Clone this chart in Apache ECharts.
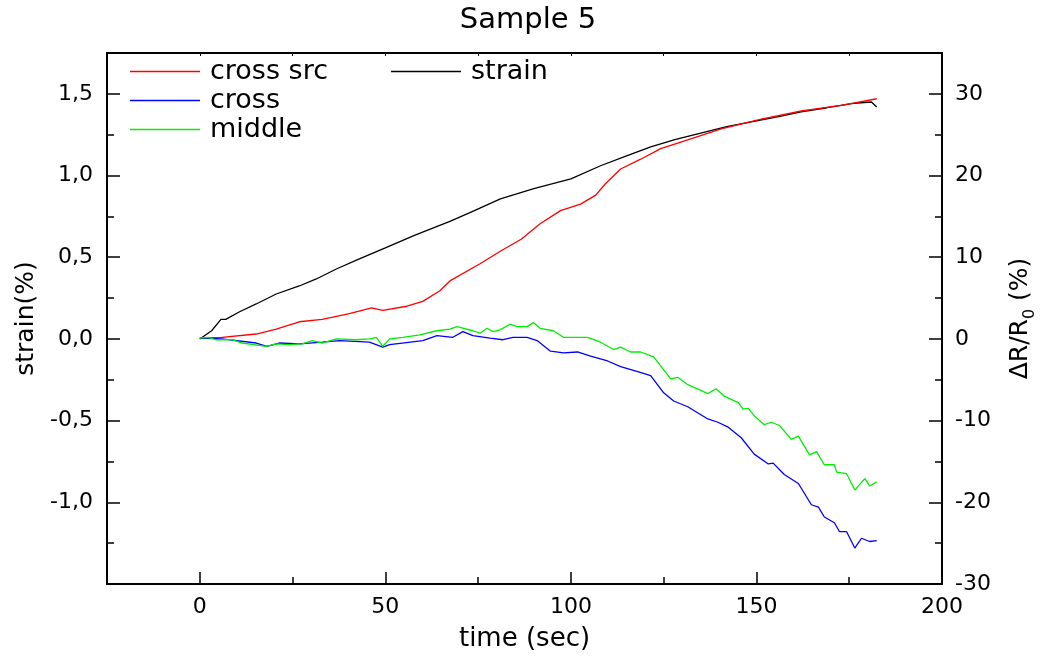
<!DOCTYPE html>
<html>
<head>
<meta charset="utf-8">
<script src="https://cdn.jsdelivr.net/npm/echarts@6/dist/echarts.min.js"></script>
<style>
  html, body { margin: 0; padding: 0; background: #fff; }
  #chart { width: 1056px; height: 659px; }
</style>
</head>
<body>
<div id="chart"></div>
<script>
// Strain (left axis, %)
const strainTime = [0, 3.2, 5.7, 7.0, 10.6, 15.2, 20.6, 26.8, 31.4, 36.8, 43, 50, 58, 67.4, 74, 81, 90, 100, 108, 115, 121.5, 128, 135, 142, 150, 156, 162, 169, 175.6, 179, 181, 182.4];
const strainValue = [0, 0.05, 0.12, 0.12, 0.165, 0.214, 0.275, 0.324, 0.367, 0.428, 0.49, 0.557, 0.635, 0.72, 0.785, 0.857, 0.92, 0.98, 1.06, 1.12, 1.175, 1.22, 1.26, 1.30, 1.334, 1.36, 1.39, 1.415, 1.44, 1.447, 1.45, 1.42];

// ΔR/R0 (right axis, %) — cross src
const crossSrcTime = [0, 6.0, 15.2, 20.6, 26.8, 33.0, 40.3, 46.3, 49.3, 55.8, 60.1, 64.7, 67.4, 75.5, 81.2, 86.6, 91.7, 97.2, 102.6, 106.7, 109.3, 113.4, 118.8, 124.2, 132.3, 140.5, 151.3, 162.1, 172.9, 182.4];
const crossSrcValue = [0.1, 0.2, 0.6, 1.2, 2.1, 2.4, 3.1, 3.8, 3.5, 4.0, 4.6, 5.9, 7.1, 9.2, 10.8, 12.2, 14.1, 15.7, 16.5, 17.6, 19.0, 20.8, 22.0, 23.3, 24.5, 25.7, 26.9, 27.9, 28.6, 29.4];

// ΔR/R0 — cross
const crossTime = [0, 6.0, 15.2, 18.1, 21.4, 26.8, 33.0, 37.6, 45.7, 49.3, 51.2, 60.1, 63.9, 68.2, 70.9, 73.6, 78.2, 81.7, 84.4, 88.2, 90.9, 94.5, 98.0, 101.8, 105.3, 109.9, 113.4, 118.0, 121.5, 125.0, 127.7, 131.5, 136.9, 139.6, 142.4, 145.9, 149.4, 153.2, 154.5, 157.5, 161.3, 164.8, 166.7, 168.3, 171.0, 172.4, 174.3, 176.5, 178.3, 180.5, 182.4];
const crossValue = [0.1, 0, -0.5, -0.9, -0.5, -0.6, -0.4, -0.2, -0.4, -1.0, -0.7, -0.2, 0.4, 0.2, 0.9, 0.4, 0.1, -0.1, 0.2, 0.2, -0.2, -1.5, -1.7, -1.6, -2.1, -2.7, -3.4, -4.0, -4.5, -6.6, -7.6, -8.3, -9.8, -10.2, -10.8, -12.1, -14.1, -15.3, -15.2, -16.6, -17.7, -20.3, -20.6, -21.8, -22.5, -23.6, -23.6, -25.6, -24.4, -24.8, -24.7];

// ΔR/R0 — middle
const middleTime = [0, 2.4, 4.3, 8.7, 11.4, 17.9, 20.6, 24.1, 27.6, 30.3, 33.0, 36.8, 42.2, 45.7, 47.6, 49.3, 51.2, 54.7, 59.3, 63.9, 67.4, 69.3, 73.6, 75.5, 77.4, 79.0, 80.9, 83.6, 85.5, 88.2, 89.9, 91.7, 95.3, 98.0, 101.8, 104.5, 108.0, 111.5, 113.4, 116.1, 118.8, 122.3, 124.2, 126.9, 128.8, 131.5, 135.0, 136.9, 139.1, 141.3, 145.1, 146.4, 147.8, 149.4, 152.1, 154.0, 156.2, 159.4, 161.3, 164.3, 166.2, 168.3, 171.0, 171.6, 174.3, 176.5, 179.2, 180.5, 182.4];
const middleValue = [0.1, 0.2, -0.1, -0.1, -0.5, -0.9, -0.6, -0.7, -0.6, -0.2, -0.5, 0, -0.1, 0, 0.2, -0.9, 0, 0.2, 0.5, 1.0, 1.2, 1.5, 1.0, 0.7, 1.3, 0.9, 1.1, 1.8, 1.5, 1.5, 2.0, 1.3, 1.0, 0.2, 0.2, 0.2, -0.4, -1.3, -1.0, -1.6, -1.6, -2.2, -3.3, -4.9, -4.7, -5.6, -6.3, -6.7, -6.1, -7.0, -7.8, -8.6, -8.5, -9.4, -10.5, -10.2, -10.6, -12.3, -11.9, -14.2, -13.8, -15.4, -15.4, -16.3, -16.5, -18.5, -17.1, -18.0, -17.5];

// Axis ticks and labels
const timeMajor = [0, 50, 100, 150, 200];
const timeMinor = [-25, 25, 75, 125, 175];
const timeTop = [0, 25, 50, 75, 100, 125, 150, 175];
const strainMajor = [-1.0, -0.5, 0, 0.5, 1.0, 1.5];
const strainMinor = [-1.25, -0.75, -0.25, 0.25, 0.75, 1.25];
const resMajor = [-30, -20, -10, 0, 10, 20, 30];
const resMinor = [-25, -15, -5, 5, 15, 25];

const pairs = (xs, ys) => xs.map((x, i) => [x, ys[i]]);
const FONT = 'DejaVu Sans';
const AX = { onZero: false, lineStyle: { color: '#000', width: 2 } };
const HIDDEN_LINE = { show: false, onZero: false };

const chart = echarts.init(document.getElementById('chart'), null, { renderer: 'canvas' });

const xBase = { type: 'value', min: -25, max: 200, splitLine: { show: false } };
const yLeftBase = { type: 'value', min: -1.5, max: 1.75, position: 'left', splitLine: { show: false } };
const yRightBase = { type: 'value', min: -30, max: 35, position: 'right', splitLine: { show: false } };

chart.setOption({
  animation: false,
  backgroundColor: '#fff',
  textStyle: { fontFamily: FONT, color: '#000' },
  title: {
    text: 'Sample 5', left: 'center', top: 1,
    textStyle: { fontFamily: FONT, fontSize: 29, fontWeight: 'normal', color: '#000' }
  },
  legend: [
    {
      data: ['cross src', 'cross', 'middle'], orient: 'vertical', left: 125, top: 52,
      icon: 'rect', itemWidth: 70, itemHeight: 1.5, itemGap: 0,
      textStyle: { fontFamily: FONT, fontSize: 27, color: '#000', lineHeight: 29, padding: [0, 0, 0, 5] }
    },
    {
      data: ['strain'], orient: 'vertical', left: 386, top: 52,
      icon: 'rect', itemWidth: 70, itemHeight: 1.5, itemGap: 0,
      textStyle: { fontFamily: FONT, fontSize: 27, color: '#000', lineHeight: 29, padding: [0, 0, 0, 5] }
    }
  ],
  grid: { left: 107, right: 114, top: 53, bottom: 75, containLabel: false },
  xAxis: [
    Object.assign({}, xBase, {
      position: 'bottom',
      name: 'time (sec)', nameLocation: 'middle', nameGap: 42,
      nameTextStyle: { fontFamily: FONT, fontSize: 26, color: '#000' },
      axisLine: AX,
      axisTick: { inside: true, length: 12, lineStyle: { color: '#000', width: 1.5 }, customValues: timeMajor },
      axisLabel: { margin: 12, fontFamily: FONT, fontSize: 22, color: '#000', customValues: timeMajor }
    }),
    Object.assign({}, xBase, {
      position: 'bottom',
      axisLine: HIDDEN_LINE,
      axisTick: { inside: true, length: 7, lineStyle: { color: '#000', width: 1.5 }, customValues: timeMinor },
      axisLabel: { show: false }
    }),
    Object.assign({}, xBase, {
      position: 'top',
      axisLine: AX,
      axisTick: { inside: true, length: 3, lineStyle: { color: '#000', width: 1 }, customValues: timeTop },
      axisLabel: { show: false }
    })
  ],
  yAxis: [
    Object.assign({}, yLeftBase, {
      name: 'strain(%)', nameLocation: 'middle', nameGap: 66, nameRotate: 90,
      nameTextStyle: { fontFamily: FONT, fontSize: 25, color: '#000' },
      axisLine: AX,
      axisTick: { inside: true, length: 13, lineStyle: { color: '#000', width: 1.5 }, customValues: strainMajor },
      axisLabel: {
        margin: 14, fontFamily: FONT, fontSize: 22, color: '#000', customValues: strainMajor,
        formatter: v => v.toFixed(1).replace('.', ',')
      }
    }),
    Object.assign({}, yRightBase, {
      name: '{a|ΔR/R}{s|0}{a| (%)}', nameLocation: 'middle', nameGap: 66, nameRotate: 90,
      nameTextStyle: {
        fontFamily: FONT, color: '#000',
        rich: {
          a: { fontFamily: FONT, fontSize: 25, color: '#000', lineHeight: 30, verticalAlign: 'top' },
          s: { fontFamily: FONT, fontSize: 16, color: '#000', lineHeight: 14, verticalAlign: 'bottom' }
        }
      },
      axisLine: AX,
      axisTick: { inside: true, length: 13, lineStyle: { color: '#000', width: 1.5 }, customValues: resMajor },
      axisLabel: { margin: 13, fontFamily: FONT, fontSize: 22, color: '#000', customValues: resMajor }
    }),
    Object.assign({}, yLeftBase, {
      axisLine: HIDDEN_LINE,
      axisTick: { inside: true, length: 7, lineStyle: { color: '#000', width: 1.5 }, customValues: strainMinor },
      axisLabel: { show: false }
    }),
    Object.assign({}, yRightBase, {
      axisLine: HIDDEN_LINE,
      axisTick: { inside: true, length: 7, lineStyle: { color: '#000', width: 1.5 }, customValues: resMinor },
      axisLabel: { show: false }
    })
  ],
  series: [
    {
      name: 'strain', type: 'line', xAxisIndex: 0, yAxisIndex: 0,
      data: pairs(strainTime, strainValue), showSymbol: false, symbol: 'none',
      color: '#000', lineStyle: { color: '#000', width: 1.3 }
    },
    {
      name: 'cross src', type: 'line', xAxisIndex: 0, yAxisIndex: 1,
      data: pairs(crossSrcTime, crossSrcValue), showSymbol: false, symbol: 'none',
      color: '#ff0000', lineStyle: { color: '#ff0000', width: 1.3 }
    },
    {
      name: 'cross', type: 'line', xAxisIndex: 0, yAxisIndex: 1,
      data: pairs(crossTime, crossValue), showSymbol: false, symbol: 'none',
      color: '#0000ff', lineStyle: { color: '#0000ff', width: 1.3 }
    },
    {
      name: 'middle', type: 'line', xAxisIndex: 0, yAxisIndex: 1,
      data: pairs(middleTime, middleValue), showSymbol: false, symbol: 'none',
      color: '#00ee00', lineStyle: { color: '#00ee00', width: 1.3 }
    }
  ]
});
</script>
</body>
</html>
